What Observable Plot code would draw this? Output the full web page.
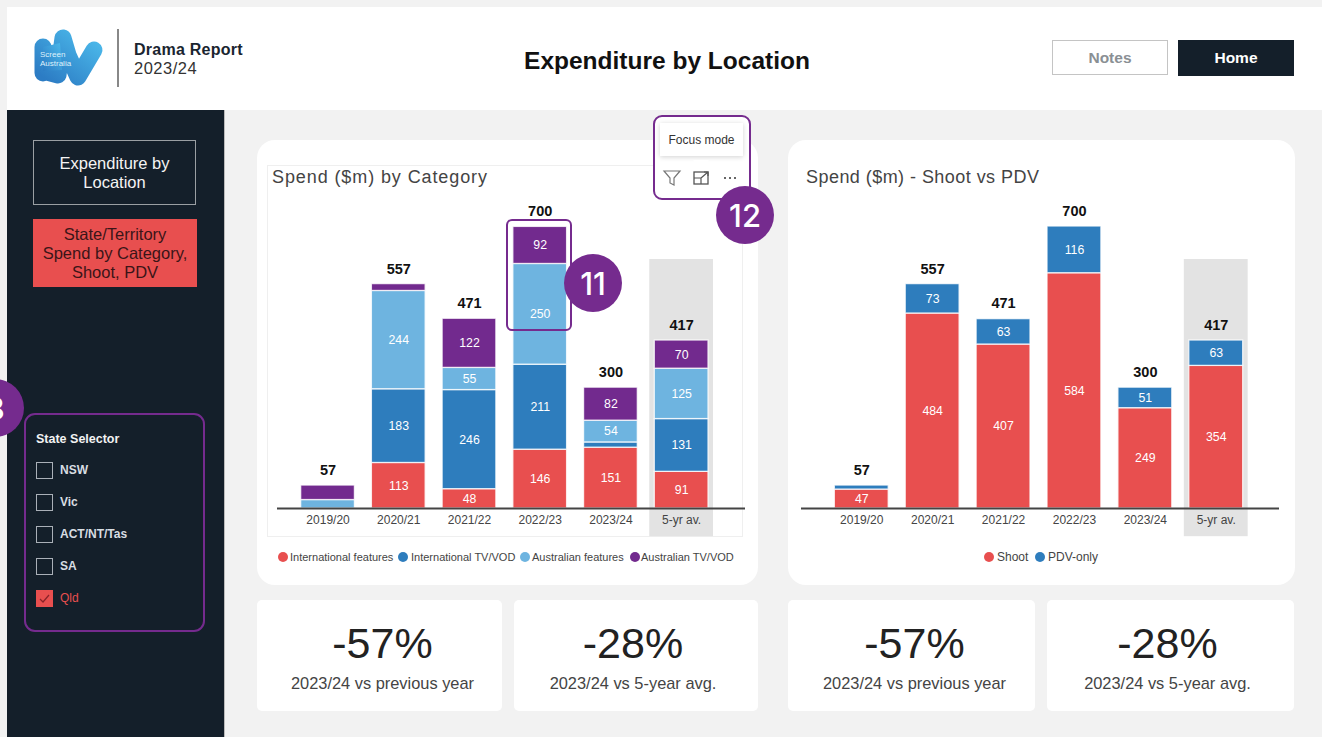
<!DOCTYPE html>
<html><head><meta charset="utf-8">
<script src="https://cdn.jsdelivr.net/npm/d3@7"></script>
<script src="https://cdn.jsdelivr.net/npm/@observablehq/plot@0.6"></script>
<style>
html,body{margin:0;padding:0;background:#f3f3f3;}
#root{position:relative;width:1322px;height:737px;overflow:hidden;background:#f2f2f2;font-family:"Liberation Sans",Arial,sans-serif;color:#222;}
.abs{position:absolute;box-sizing:border-box;}
.c{display:flex;align-items:center;justify-content:center;text-align:center;}
.num{width:58px;height:58px;border-radius:50%;background:#752b8e;color:#fff;font:500 31px Inter,'Liberation Sans';z-index:6;}
</style></head><body><div id="root"></div>
<script>
const years = ["2019/20","2020/21","2021/22","2022/23","2023/24","5-yr av."];
const totals = [57,557,471,700,300,417];
const categoryNames = ["International features","International TV/VOD","Australian features","Australian TV/VOD"];
const internationalFeatures = [0,113,48,146,151,91];
const internationalTV = [0,183,246,211,13,131];
const australianFeatures = [21,244,55,250,54,125];
const australianTV = [36,17,122,92,82,70];
const shootNames = ["Shoot","PDV-only"];
const shoot = [47,484,407,584,249,354];
const pdvOnly = [10,73,63,116,51,63];
const categoryColors = ["#e84f4f","#2e7dbd","#6eb4e0","#722a8e"];
const shootColors = ["#e84f4f","#2e7dbd"];
const averageBand = [{year:"5-yr av.",low:-70,high:618}];
const states = ["NSW","Vic","ACT/NT/Tas","SA","Qld"];

const root = document.getElementById("root");
function box(l,t,w,h,css="",html="",cls=""){
  const d=document.createElement("div");d.className="abs "+cls;
  d.style.cssText=`left:${l}px;top:${t}px;width:${w}px;height:${h}px;`+css;
  d.innerHTML=html;root.appendChild(d);return d;
}
// page frame
box(7,7,1315,103,"background:#fff;");
box(7,110,218,627,"background:#141f2a;border-right:1px solid #bbb;");
// logo
box(30,25,78,66,"",`<svg width="78" height="66" viewBox="0 0 78 66">
<defs><linearGradient id="lg" x1="0" y1="1" x2="1" y2="0"><stop offset="0" stop-color="#2c7cc4"/><stop offset="1" stop-color="#4bb8ea"/></linearGradient></defs>
<path d="M13 22 L13 48 M13 46 L28 50 L33 13 L38 30 L48 52 L64 25" fill="none" stroke="url(#lg)" stroke-width="17" stroke-linecap="round" stroke-linejoin="round"/>
<path d="M13 22 L30 18 L32 45 L13 46 Z" fill="url(#lg)"/>
<text x="10" y="32" fill="#dff1fb" font-size="8">Screen</text><text x="10" y="41" fill="#dff1fb" font-size="8">Australia</text></svg>`);
box(116.5,29,2,58,"background:#888;");
box(134,39.5,130,19,"font:bold 16px/19px 'Liberation Sans';color:#1a2530;letter-spacing:.25px;","Drama Report");
box(134,58.5,130,19,"font:16.5px/19px 'Liberation Sans';color:#333;letter-spacing:.5px;","2023/24");
box(467,45,400,32,"font:bold 24.5px/32px 'Liberation Sans';color:#111;","Expenditure by Location","c");
box(1052,40,116,35,"background:#fff;border:1.5px solid #c4c4c4;font:bold 15.5px 'Liberation Sans';color:#8a8f94;","Notes","c");
box(1178,40,116,36,"background:#141f2a;font:bold 15.5px 'Liberation Sans';color:#fff;","Home","c");
// sidebar
box(33,140,163,65,"border:1.5px solid #9a9fa3;color:#f4f4f4;font:16.5px/19px 'Liberation Sans';","Expenditure by<br>Location","c");
box(33,219,164,68,"background:#e84f4f;color:#3b1518;font:16.5px/19px 'Liberation Sans';","State/Territory<br>Spend by Category,<br>Shoot, PDV","c");
box(24,413,181,219,"border:2px solid #752b8e;border-radius:11px;");
box(36,430,150,18,"font:bold 12.5px/18px 'Liberation Sans';color:#f2f2f2;","State Selector");
states.forEach((s,i)=>{
  const y=470+32*i, on=s==="Qld";
  box(36,y-8.5,17,17,on?"background:#e84f4f;":"border:1.5px solid #aab0b8;",on?`<svg width="17" height="17"><path d="M4 9 L7 12 L13 5" fill="none" stroke="#8a2228" stroke-width="1.2"/></svg>`:"");
  box(60,y-9,120,18,`font:${on?"":"bold "}12px/18px 'Liberation Sans';color:${on?"#e84f4f":"#d8dde2"};`,s);
});
// cards
box(257,140,501,445,"background:#fff;border-radius:18px;");
box(788,140,507,445,"background:#fff;border-radius:18px;");
box(267,165,476,372,"border:1px solid #efefef;");
box(272,166,300,22,"font:18px/22px 'Liberation Sans';color:#444;letter-spacing:.9px;","Spend ($m) by Category");
box(806,166,300,22,"font:18px/22px 'Liberation Sans';color:#444;letter-spacing:.45px;","Spend ($m) - Shoot vs PDV");

function chart(names,colors,columns,left,width,marginLeft,marginRight){
  const rows=[];
  names.forEach((series,i)=>years.forEach((year,j)=>rows.push({year,series,value:columns[i][j]})));
  const tops=years.map((year,j)=>({year,total:totals[j]}));
  const stackOpts={x:"year",y:"value",z:"series",order:names};
  const svg=Plot.plot({
    width,height:340,marginTop:26,marginBottom:32,marginLeft,marginRight,
    style:{background:"transparent",fontFamily:"'Liberation Sans',Arial,sans-serif",fontSize:"12px",overflow:"visible"},
    x:{domain:years,padding:0.24,round:false,label:null,axis:null},
    y:{domain:[0,700],axis:null},
    color:{domain:names,range:colors},
    marks:[
      Plot.barY(averageBand,{x:"year",y1:"low",y2:"high",fill:"#e3e3e3",insetLeft:-5,insetRight:-5}),
      Plot.axisX({domain:years,tickSize:0,tickPadding:7,fontSize:12,fill:"#444",label:null}),
      Plot.barY(rows,Plot.stackY({...stackOpts,fill:"series",stroke:"#fff",strokeWidth:1.3,strokeOpacity:.8})),
      Plot.ruleY([0],{stroke:"#444",strokeWidth:2.2,insetLeft:-marginLeft,insetRight:-marginRight}),
      Plot.text(rows,Plot.stackY({...stackOpts,text:d=>d.value>=40?String(d.value):"",fill:"#fff",fontSize:12.3})),
      Plot.text(tops,{x:"year",y:"total",text:d=>String(d.total),dy:-15,fontSize:14.5,fontWeight:"bold",fill:"#111"})
    ]
  });
  svg.style.position="absolute";svg.style.left=left+"px";svg.style.top="200px";svg.style.zIndex=2;svg.style.maxWidth="none";
  root.appendChild(svg);
}
chart(categoryNames,categoryColors,[internationalFeatures,internationalTV,australianFeatures,australianTV],277,468,6.7,20);
chart(shootNames,shootColors,[shoot,pdvOnly],801,478,16.3,19.3);

// legends
function legend(items,colors,dots,starts,size){
  items.forEach((t,i)=>{
    box(dots[i]-5,552,10,10,`background:${colors[i]};border-radius:50%;z-index:3;`);
    box(starts[i],549,130,16,`font:${size}px/16px 'Liberation Sans';color:#444;white-space:nowrap;z-index:3;`,t);
  });
}
legend(categoryNames,categoryColors,[283,403,525,635],[290,411,532,641],11);
legend(shootNames,shootColors,[989,1040],[997,1048],12);

// KPI cards
function kpi(l,w,big,small,shift){
  box(l,600,w,111,"background:#fff;border-radius:5px;");
  box(l+shift,618,w,50,"font:43px/50px 'Liberation Sans';color:#222;",big,"c");
  box(l+shift,673,w,20,"font:16.4px/20px 'Liberation Sans';color:#444;",small,"c");
}
kpi(257,245,"-57%","2023/24 vs previous year",3);
kpi(514,244,"-28%","2023/24 vs 5-year avg.",-3);
kpi(788,247,"-57%","2023/24 vs previous year",3);
kpi(1047,247,"-28%","2023/24 vs 5-year avg.",-3);

// annotation call-outs
box(505.5,219,66,112,"border:2px solid #752b8e;border-radius:6px;z-index:4;");
box(653,115,98,85,"border:2px solid #752b8e;border-radius:9px;background:#fff;z-index:3;");
box(660,123,83,33,"background:#fff;box-shadow:0 1px 5px rgba(0,0,0,.18);font:12px 'Liberation Sans';color:#333;z-index:4;","Focus mode","c");
box(693,155,16,9,"z-index:4;",`<svg width="16" height="9"><path d="M0 0 L16 0 L8 8 Z" fill="#fff"/></svg>`);
box(662,168,82,20,"z-index:4;",`<svg width="82" height="20" fill="none" stroke="#777">
<path d="M2 3 H18 L12 10 V17 L8 15 V10 Z" stroke-width="1.2"/>
<rect x="32" y="4" width="14" height="12" stroke="#555" stroke-width="1.3"/><path d="M32 10 H39 V16 M39 10 L46 4 M42 4 H46 V8" stroke="#555" stroke-width="1.2"/>
<path d="M62 10 H64 M67 10 H69 M72 10 H74" stroke="#666" stroke-width="1.8"/></svg>`);
box(564,254,58,58,"","11","c num");
box(716,186,58,58,"","12","c num");
box(-34,379,58,58,"","8","c num");
</script></body></html>
